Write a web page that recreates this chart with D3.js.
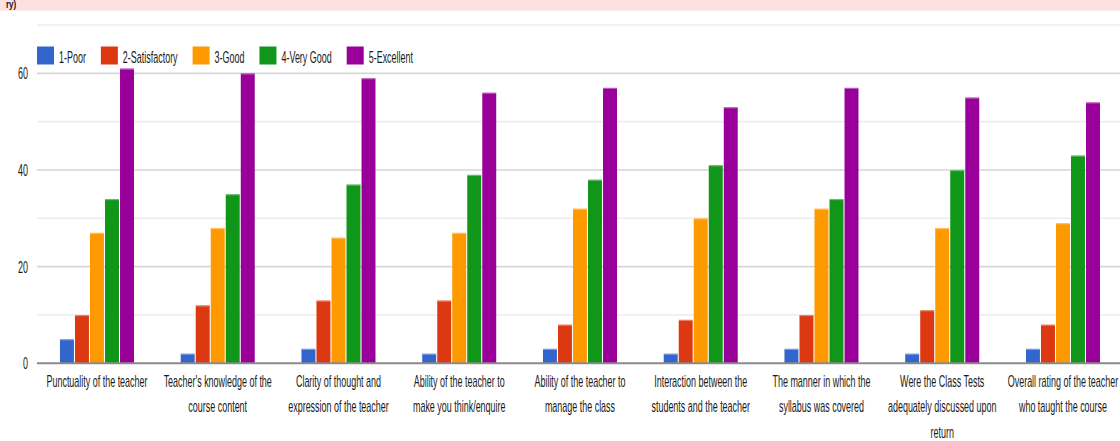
<!DOCTYPE html>
<html>
<head>
<meta charset="utf-8">
<script src="https://cdn.jsdelivr.net/npm/d3@7/dist/d3.min.js"></script>
<style>
  html, body { margin: 0; padding: 0; background: #fff; }
  svg { display: block; }
  text { font-family: "Liberation Sans", Arial, sans-serif; fill: #1a1a1a; }
</style>
</head>
<body>
<svg id="chart" width="1120" height="441"></svg>
<script>
// ---- data ----
const categories = [
  ["Punctuality of the teacher"],
  ["Teacher's knowledge of the", "course content"],
  ["Clarity of thought and", "expression of the teacher"],
  ["Ability of the teacher to", "make you think/enquire"],
  ["Ability of the teacher to", "manage the class"],
  ["Interaction between the", "students and the teacher"],
  ["The manner in which the", "syllabus was covered"],
  ["Were the Class Tests", "adequately discussed upon", "return"],
  ["Overall rating of the teacher", "who taught the course"]
];
const seriesNames = ["1-Poor", "2-Satisfactory", "3-Good", "4-Very Good", "5-Excellent"];
const colors = ["#3366cc", "#dc3912", "#ff9900", "#109618", "#990099"];
const poor         = [5, 2, 3, 2, 3, 2, 3, 2, 3];
const satisfactory = [10, 12, 13, 13, 8, 9, 10, 11, 8];
const good         = [27, 28, 26, 27, 32, 30, 32, 28, 29];
const veryGood     = [34, 35, 37, 39, 38, 41, 34, 40, 43];
const excellent    = [61, 60, 59, 56, 57, 53, 57, 55, 54];
const yTicks = [0, 20, 40, 60];
const gridValues = [10, 20, 30, 40, 50, 60, 70];
const headerText = "ry)";

const series = [poor, satisfactory, good, veryGood, excellent];

// ---- layout ----
const svg = d3.select("#chart");
const W = 1120;
const SX = 0.56;       // horizontal squeeze of the text
const FS = 16;

// header band
svg.append("rect").attr("x", 0).attr("y", 0).attr("width", W).attr("height", 10).attr("fill", "#fde1e1");
svg.append("line").attr("x1", 0).attr("x2", W).attr("y1", 10.5).attr("y2", 10.5).attr("stroke", "#fbeaea");
svg.append("text").attr("transform", "translate(6,8) scale(0.8,1)")
  .style("font-size", "10px").style("font-weight", "bold").style("fill", "#111").text(headerText);

const x0 = d3.scaleBand().domain(d3.range(categories.length)).range([36.6, 36.6 + 9 * 120.75])
  .paddingInner(0.387).paddingOuter(0.1935);
const x1 = d3.scaleBand().domain(d3.range(series.length)).range([0, x0.bandwidth()]).paddingInner(0.07);
const y = d3.scaleLinear().domain([0, 70]).range([363.3, 25]);

const plotLeft = 37, plotRight = W;

// gridlines
svg.append("g").selectAll("line").data(gridValues).join("line")
  .attr("x1", plotLeft).attr("x2", plotRight)
  .attr("y1", d => y(d)).attr("y2", d => y(d))
  .attr("stroke", d => (d % 20 === 0) ? "#d6d6d6" : "#ededed")
  .attr("stroke-width", 1.6);

// y tick labels
svg.append("g").selectAll("text").data(yTicks).join("text")
  .attr("transform", d => `translate(28,${y(d) + 6}) scale(${SX},1)`)
  .attr("text-anchor", "end")
  .style("font-size", FS + "px")
  .text(d => d);

// bars
const groups = svg.append("g").selectAll("g").data(categories).join("g")
  .attr("transform", (d, i) => `translate(${x0(i)},0)`);
groups.each(function(c, i) {
  const g = d3.select(this);
  series.forEach((s, k) => {
    g.append("rect")
      .attr("x", x1(k)).attr("width", x1.bandwidth())
      .attr("y", y(s[i])).attr("height", y(0) - y(s[i]))
      .attr("fill", colors[k]);
    g.append("rect")
      .attr("x", x1(k)).attr("width", x1.bandwidth())
      .attr("y", y(s[i])).attr("height", 1.2)
      .attr("fill", "#fff").attr("opacity", 0.35);
  });
});

// zero baseline
svg.append("line").attr("x1", plotLeft).attr("x2", plotRight)
  .attr("y1", y(0)).attr("y2", y(0)).attr("stroke", "#8a8a8a").attr("stroke-width", 2);

// category labels
const lab = svg.append("g").selectAll("text").data(categories).join("text")
  .attr("transform", (d, i) => `translate(${x0(i) + x0.bandwidth() / 2},386.5) scale(${SX},1)`)
  .attr("text-anchor", "middle")
  .style("font-size", FS + "px");
lab.each(function(lines) {
  const t = d3.select(this);
  lines.forEach((ln, j) => {
    t.append("tspan").attr("x", 0).attr("y", j * 25.8).text(ln);
  });
});

// legend
const leg = svg.append("g");
let lx = 37;
seriesNames.forEach((name, k) => {
  leg.append("rect").attr("x", lx).attr("y", 46.5).attr("width", 17).attr("height", 18).attr("fill", colors[k]);
  const t = leg.append("text")
    .attr("transform", `translate(${lx + 22},62.5) scale(${SX},1)`)
    .style("font-size", FS + "px").text(name);
  const w = t.node().getComputedTextLength() * SX;
  lx = lx + 22 + w + 15;
});
</script>
</body>
</html>
